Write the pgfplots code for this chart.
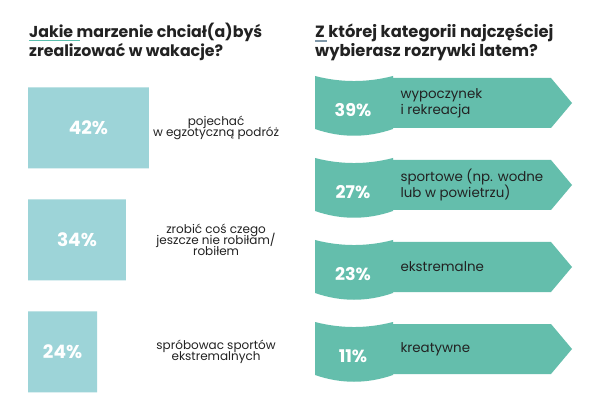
\documentclass[border=0pt]{standalone}
\usepackage{fontspec}
\setmainfont{Poppins}
\usepackage{pgfplots}
\pgfplotsset{compat=1.18}
\usepackage{pgfplotstable}
\definecolor{barc}{HTML}{9DD4D8}
\definecolor{arrc}{HTML}{64BEAC}
\definecolor{txt}{HTML}{222222}
\definecolor{ulin}{HTML}{5BBFAE}
\definecolor{ulz}{HTML}{7F97A8}
\AtBeginDocument{\lineskiplimit=-100pt\relax}

\pgfplotstableread{
row v
0 42
1 34
2 24
}\lefttab
\pgfplotstableread{
yc v
103 39
185 27
267 23
349 11
}\righttab

\begin{document}
\begin{tikzpicture}[x=1pt,y=1pt]
\path[use as bounding box] (0pt,0pt) rectangle (600pt,420pt);
\fill[white] (0pt,0pt) rectangle (600pt,420pt);

% titles
\node[anchor=base west, inner sep=0, font=\bfseries\fontsize{15.8}{18}\selectfont, text=txt] at (29pt,382.5pt) {Jakie marzenie chciał(a)byś};
\node[anchor=base west, inner sep=0, font=\bfseries\fontsize{15.8}{18}\selectfont, text=txt] at (29pt,363.5pt) {zrealizować w wakacje?};
\node[anchor=base west, inner sep=0, font=\bfseries\fontsize{16.3}{18}\selectfont, text=txt] at (315pt,382pt) {Z której kategorii najczęściej};
\node[anchor=base west, inner sep=0, font=\bfseries\fontsize{16.3}{18}\selectfont, text=txt] at (315pt,363.5pt) {wybierasz rozrywki latem?};
\draw[ulin, line width=1.3pt] (29pt,379.5pt) -- (80pt,379.5pt);
\draw[ulz, line width=1.3pt] (315pt,379pt) -- (327pt,379pt);

% left chart
\begin{axis}[at={(28pt,348pt)}, anchor=north west, x=2.88pt, y=112pt,
  xmin=0, xmax=100, ymin=-0.5, ymax=2.5, y dir=reverse,
  hide axis, clip=false, /pgf/number format/assume math mode=true]
\addplot[xbar, bar width=81pt, fill=barc, draw=none] table[x=v, y=row] {\lefttab};
\addplot[only marks, mark=none, point meta=explicit,
  nodes near coords={\pgfmathprintnumber{\pgfplotspointmeta}\%},
  nodes near coords style={anchor=center, text=white, font=\bfseries\fontsize{18.5}{20}\selectfont}]
  table[x expr=\thisrow{v}/2, y=row, meta=v] {\lefttab};
\node[align=center, text=txt, font=\fontsize{12}{10.8}\selectfont] at (axis cs:65.3,0) {pojechać\\w egzotyczną podróż};
\node[align=center, text=txt, font=\fontsize{12}{10.8}\selectfont] at (axis cs:65.3,1) {zrobić coś czego\\jeszcze nie robiłam/\\robiłem};
\node[align=center, text=txt, font=\fontsize{12}{10.8}\selectfont] at (axis cs:65.3,2) {spróbowac sportów\\ekstremalnych};
\end{axis}

% right chart
\begin{axis}[at={(300pt,360pt)}, anchor=north west, x=1pt, y=1pt,
  xmin=300, xmax=600, ymin=60, ymax=400, y dir=reverse,
  hide axis, clip=false, /pgf/number format/assume math mode=true]
\pgfplotsinvokeforeach{103,185,267,349}{
  \fill[arrc] (axis cs:315,{#1-27}) .. controls (axis cs:341,{#1-20.3}) and (axis cs:367,{#1-20.3}) .. (axis cs:393,{#1-27})
    -- (axis cs:393,{#1-25}) -- (axis cs:551,{#1-25}) -- (axis cs:572,#1) -- (axis cs:551,{#1+25}) -- (axis cs:393,{#1+25})
    -- (axis cs:393,{#1+26}) .. controls (axis cs:367,{#1+35}) and (axis cs:341,{#1+35}) .. (axis cs:315,{#1+26}) -- cycle;
}
\addplot[only marks, mark=none, point meta=explicit,
  nodes near coords={\pgfmathprintnumber{\pgfplotspointmeta}\%},
  nodes near coords style={anchor=center, text=white, font=\bfseries\fontsize{17.5}{19}\selectfont}]
  table[x expr=353, y expr=\thisrow{yc}+7, meta=v] {\righttab};
\node[anchor=west, align=left, text=txt, font=\fontsize{13.4}{16}\selectfont] at (axis cs:397,103) {wypoczynek\\i rekreacja};
\node[anchor=west, align=left, text=txt, font=\fontsize{13.4}{16}\selectfont] at (axis cs:397,185) {sportowe (np. wodne\\lub w powietrzu)};
\node[anchor=west, align=left, text=txt, font=\fontsize{13.4}{16}\selectfont] at (axis cs:397,267) {ekstremalne};
\node[anchor=west, align=left, text=txt, font=\fontsize{13.4}{16}\selectfont] at (axis cs:397,349) {kreatywne};
\end{axis}
\end{tikzpicture}
\end{document}
